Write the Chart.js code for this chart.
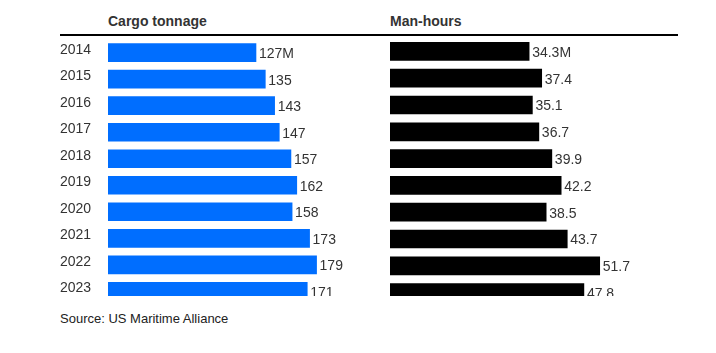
<!DOCTYPE html>
<html>
<head>
<meta charset="utf-8">
<script src="https://cdn.jsdelivr.net/npm/chart.js@4"></script>
<style>
  html, body { margin: 0; padding: 0; background: #fff; }
  body { width: 716px; height: 353px; position: relative; overflow: hidden; font-family: "Liberation Sans", Arial, sans-serif; }
  .title { position: absolute; top: 12px; font-size: 14px; font-weight: bold; color: #333; line-height: 18px; }
  .rule { position: absolute; left: 60px; top: 34px; width: 618px; height: 0; border-top: 2px solid #000; }
  .clip { position: absolute; overflow: hidden; }
  .source { position: absolute; left: 60px; top: 311px; font-size: 13px; color: #222; line-height: 16px; }
</style>
</head>
<body>
<div class="title" style="left:108px">Cargo tonnage</div>
<div class="title" style="left:390px">Man-hours</div>
<div class="rule"></div>
<div class="clip" style="left:60px;top:31px;width:330px;height:265px"><canvas id="c1" width="330" height="282"></canvas></div>
<div class="clip" style="left:390px;top:38px;width:326px;height:258px"><canvas id="c2" width="326" height="268"></canvas></div>
<div class="source">Source: US Maritime Alliance</div>
<script>
const years = ["2014","2015","2016","2017","2018","2019","2020","2021","2022","2023"];
const cargoTonnage = [127, 135, 143, 147, 157, 162, 158, 173, 179, 171];
const manHours = [34.3, 37.4, 35.1, 36.7, 39.9, 42.2, 38.5, 43.7, 51.7, 47.8];
const cargoLabels = ["127M","135","143","147","157","162","158","173","179","171"];
const manHourLabels = ["34.3M","37.4","35.1","36.7","39.9","42.2","38.5","43.7","51.7","47.8"];

const valueLabelPlugin = {
  id: 'valueLabels',
  afterDatasetsDraw(chart, args, opts) {
    const ctx = chart.ctx;
    const meta = chart.getDatasetMeta(0);
    ctx.save();
    ctx.font = '14px "Liberation Sans", Arial, sans-serif';
    ctx.fillStyle = '#333';
    ctx.textAlign = 'left';
    ctx.textBaseline = 'middle';
    meta.data.forEach((bar, i) => {
      ctx.fillText(opts.labels[i], bar.x + 3, bar.y + 1.5);
    });
    ctx.restore();
  }
};

function makeChart(id, data, labels, color, max, showYears, axisWidth, padRight) {
  return new Chart(document.getElementById(id), {
    type: 'bar',
    data: {
      labels: years,
      datasets: [{ data: data, backgroundColor: color, barThickness: 18, borderWidth: 0 }]
    },
    options: {
      indexAxis: 'y',
      responsive: false,
      animation: false,
      layout: { padding: { left: 0, top: 0, bottom: 0, right: padRight } },
      plugins: {
        legend: { display: false },
        tooltip: { enabled: false },
        valueLabels: { labels: labels }
      },
      scales: {
        x: { display: false, min: 0, max: max, grid: { display: false } },
        y: {
          display: true,
          grid: { display: false, drawTicks: false },
          border: { display: false },
          afterFit(scale) { scale.width = axisWidth; },
          ticks: {
            display: showYears,
            crossAlign: 'far',
            padding: 0,
            labelOffset: -3,
            color: '#333',
            font: { family: '"Liberation Sans", Arial, sans-serif', size: 14 }
          }
        }
      }
    },
    plugins: [valueLabelPlugin]
  });
}

makeChart('c1', cargoTonnage, cargoLabels, '#006eff', 230, true, 48, 14);
makeChart('c2', manHours, manHourLabels, '#000000', 71, false, 0, 38);
</script>
</body>
</html>
